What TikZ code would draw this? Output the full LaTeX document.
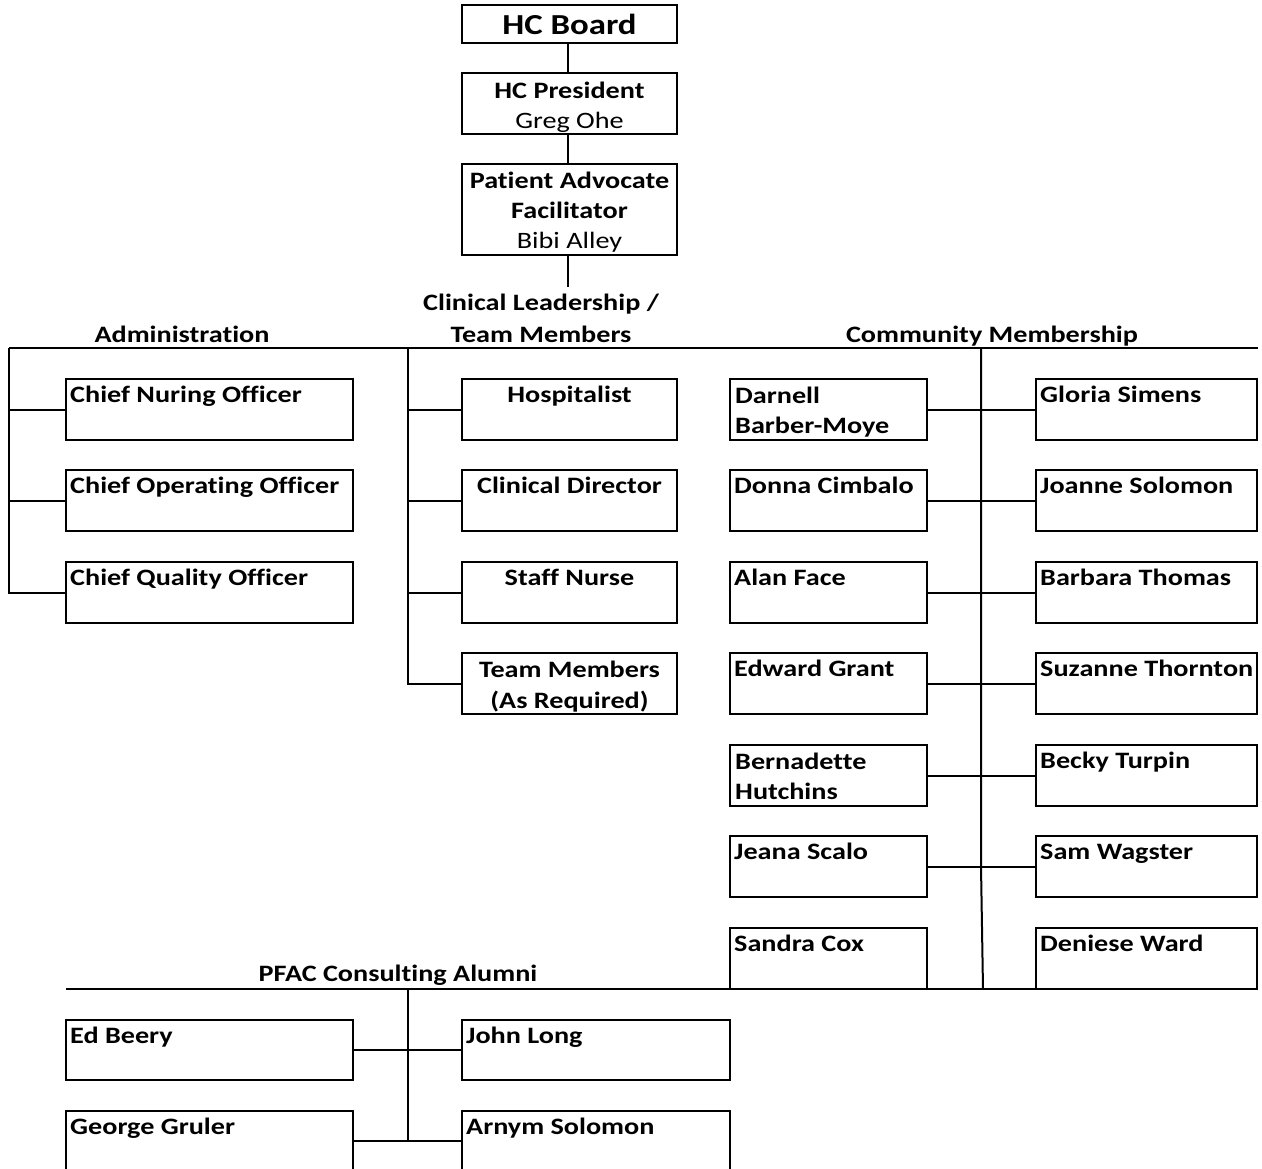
\documentclass[tikz,border=0pt]{standalone}
\usepackage{fontspec}
\setmainfont{Carlito}[FakeStretch=1.2, Ligatures=NoCommon]
\usetikzlibrary{fit}
\tikzset{
  bx/.style={draw, line width=2pt, inner sep=0pt},
  ln/.style={line width=2pt},
  tl/.style={font=\bfseries\fontsize{23.5}{25}\selectfont, inner sep=0pt, anchor=base west},
  tc/.style={font=\bfseries\fontsize{23.5}{25}\selectfont, inner sep=0pt, anchor=base},
  tr/.style={font=\fontsize{23.5}{25}\selectfont, inner sep=0pt, anchor=base},
  tbig/.style={font=\bfseries\fontsize{29}{30}\selectfont, inner sep=0pt, anchor=base},
}
\newcommand\obox[5]{\node[bx, fit={(#2,#3)(#4,#5)}] (#1) {};}
\newcommand\lbox[6]{\obox{#1}{#2}{#3}{#4}{#5}\node[tl] (#1t) at ([xshift=5pt,yshift=-24.5pt]#1.north west) {#6};}
\newcommand\cbox[6]{\obox{#1}{#2}{#3}{#4}{#5}\node[tc] (#1t) at ([yshift=-24.5pt]#1.north) {#6};}
\begin{document}
\begin{tikzpicture}[x=1pt,y=-1pt]
\useasboundingbox (0,0) rectangle (1262,1169);
\clip (0,0) rectangle (1262,1169);
% top chain
\obox{board}{462}{5}{677}{43}
\node[tbig] (boardt) at (569.5,35) {HC Board};
\obox{pres}{462}{73}{677}{134}
\node[tc] (prest) at (569.5,99) {HC President};
\node[tr] (presn) at (569.5,129) {Greg Ohe};
\obox{paf}{462}{164}{677}{255}
\node[tc] (paft1) at (569.5,189) {Patient Advocate};
\node[tc] (paft2) at (569.5,219) {Facilitator};
\node[tr] (pafn) at (569.5,249) {Bibi Alley};
\coordinate (pafd) at (568,287);
\draw[ln] (board.south -| 568,0) -- (pres.north -| 568,0);
\draw[ln] (pres.south -| 568,0) -- (paf.north -| 568,0);
\draw[ln] (paf.south -| 568,0) -- (pafd);
% headers
\node[tc] (hclin1) at (541,311) {Clinical Leadership /};
\node[tc] (hclin2) at (541,342) {Team Members};
\node[tc] (hadm) at (182,342) {Administration};
\node[tc] (hcom) at (992,342) {Community Membership};
\node[tc] (hpfac) at (398,981) {PFAC Consulting Alumni};
% main line
\coordinate (hl) at (9,348);
\coordinate (hr) at (1258,348);
\draw[ln] (hl) -- (hr);
% administration
\lbox{cno}{66}{379}{353}{440}{Chief Nuring Officer}
\lbox{coo}{66}{470}{353}{531}{Chief Operating Officer}
\lbox{cqo}{66}{562}{353}{623}{Chief Quality Officer}
\draw[ln] (hl) |- (cqo.west);
\draw[ln] (cno.west -| hl) -- (cno.west);
\draw[ln] (coo.west -| hl) -- (coo.west);
% clinical
\coordinate (cl) at (408,348);
\cbox{hosp}{462}{379}{677}{440}{Hospitalist}
\cbox{cdir}{462}{470}{677}{531}{Clinical Director}
\cbox{snur}{462}{562}{677}{623}{Staff Nurse}
\obox{team}{462}{653}{677}{714}
\node[tc] (teamt1) at (569.5,677.5) {Team Members};
\node[tc] (teamt2) at (569.5,708) {(As Required)};
\draw[ln] (cl) |- (team.west);
\draw[ln] (hosp.west -| cl) -- (hosp.west);
\draw[ln] (cdir.west -| cl) -- (cdir.west);
\draw[ln] (snur.west -| cl) -- (snur.west);
% community
\obox{darn}{730}{379}{927}{440}
\node[tl] (darnt1) at (735,403.5) {Darnell};
\node[tl] (darnt2) at (735,433.5) {Barber-Moye};
\lbox{donna}{730}{470}{927}{531}{Donna Cimbalo}
\lbox{alan}{730}{562}{927}{623}{Alan Face}
\lbox{edw}{730}{653}{927}{714}{Edward Grant}
\obox{bern}{730}{745}{927}{806}
\node[tl] (bernt1) at (735,769.5) {Bernadette};
\node[tl] (bernt2) at (735,799.5) {Hutchins};
\lbox{jeana}{730}{836}{927}{897}{Jeana Scalo}
\lbox{sandra}{730}{928}{927}{989}{Sandra Cox}
\lbox{gloria}{1036}{379}{1257}{440}{Gloria Simens}
\lbox{joanne}{1036}{470}{1257}{531}{Joanne Solomon}
\lbox{barb}{1036}{562}{1257}{623}{Barbara Thomas}
\lbox{suz}{1036}{653}{1257}{714}{Suzanne Thornton}
\lbox{becky}{1036}{745}{1257}{806}{Becky Turpin}
\lbox{sam}{1036}{836}{1257}{897}{Sam Wagster}
\lbox{den}{1036}{928}{1257}{989}{Deniese Ward}
\coordinate (cm) at (981,348);
\coordinate (cmj) at (981,866);
\coordinate (cmb) at (983,989);
\draw[ln] (cm) -- (cmj) -- (cmb);
\draw[ln] (darn.east) -- (gloria.west);
\draw[ln] (donna.east) -- (joanne.west);
\draw[ln] (alan.east) -- (barb.west);
\draw[ln] (edw.east) -- (suz.west);
\draw[ln] (bern.east) -- (becky.west);
\draw[ln] (jeana.east) -- (sam.west);
% bottom line
\coordinate (bl) at (66,989);
\coordinate (br) at (1258,989);
\draw[ln] (bl) -- (br);
% PFAC
\coordinate (pf) at (408,989);
\lbox{ed}{66}{1020}{353}{1080}{Ed Beery}
\lbox{geo}{66}{1111}{353}{1171}{George Gruler}
\lbox{john}{462}{1020}{730}{1080}{John Long}
\lbox{arn}{462}{1111}{730}{1171}{Arnym Solomon}
\draw[ln] (pf) -- (pf |- geo.east);
\draw[ln] (ed.east) -- (john.west);
\draw[ln] (geo.east) -- (arn.west);
\end{tikzpicture}
\end{document}
